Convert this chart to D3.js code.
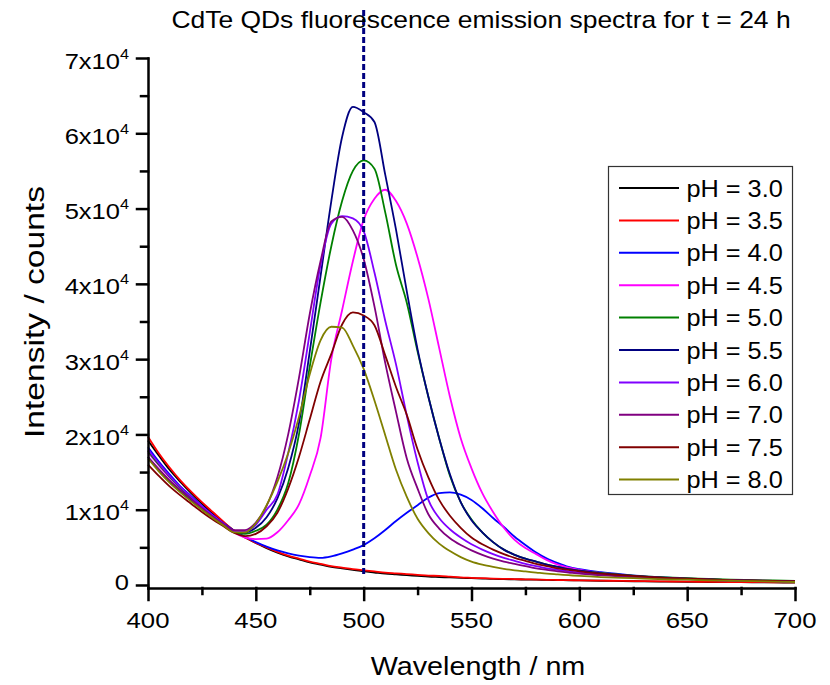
<!DOCTYPE html>
<html>
<head>
<meta charset="utf-8">
<script src="https://cdn.jsdelivr.net/npm/d3@7"></script>
<style>
  body { margin: 0; background: #fff; }
  text { font-family: Arial, 'Liberation Sans', sans-serif; fill: #000; }
</style>
</head>
<body>
<div id="chart"></div>
<script>
(function(d3) {
  'use strict';

  // wavelength grid (nm) shared by all spectra
  var wavelengths = [400,405,410,415,420,425,430,435,440,445,450,455,460,465,470,475,480,485,490,495,
    500,505,510,515,520,525,530,535,540,545,550,555,560,565,570,575,580,585,590,595,600,
    610,620,630,640,650,660,670,680,690,700];

  // intensities (counts)
  var ph30 = [19200,17200,15300,13700,12200,10800,9500,8300,7200,6300, 5600,4900,4300,3800,3400,3000,2700,2400,2200,2000,
    1800,1650,1500,1400,1300,1200,1100,1050,1000,950, 900,850,800,780,750,720,700,670,650,620, 600,
    560,520,480,450,420,400,380,360,340,320];
  var ph35 = [19700,17500,15600,13900,12400,11000,9700,8400,7200,6300, 5600,5000,4400,3900,3500,3100,2800,2500,2300,2100,
    1950,1800,1650,1550,1450,1350,1250,1200,1100,1000, 950,900,850,820,780,750,720,690,660,640, 620,
    580,540,500,470,440,420,400,380,360,350];
  var ph40 = [18300,16400,14700,13100,11800,10500,9300,8200,7200,6400, 5700,5100,4600,4200,3900,3700,3600,3800,4200,4700,
    5300,6200,7300,8500,9600,10600,11600,12200,12300,12000, 11300,10200,8900,7700,6400,5300,4300,3500,2900,2400, 2100,
    1700,1400,1150,1000,850,750,650,550,500,450];
  var ph45 = [17600,15900,14300,12900,11600,10400,9200,8100,7000,6300, 6100,6150,7000,8600,10700,14500,19500,30000,36500,43000,
    48500,51300,52500,51000,48000,43500,38000,31500,25000,19500, 15500,12200,9700,7600,6000,4900,4100,3300,2700,2300, 2000,
    1600,1300,1100,950,800,700,600,550,500,450];
  var ph50 = [17800,16000,14400,12900,11600,10300,9100,8000,7000,6800, 7200,8000,10000,13500,20000,29000,37500,45000,51000,55000,
    56400,55300,49500,42500,37500,31000,25000,19500,14500,11000, 8700,7000,5700,4700,4000,3500,3100,2700,2400,2100, 1900,
    1600,1350,1150,1000,900,800,700,650,600,550];
  var ph55 = [17000,15300,13800,12500,11300,10100,9000,8000,7100,7000, 7600,9000,11500,15500,21500,31000,41000,51000,59500,63500,
    62800,61500,54500,47200,39000,31300,25000,19500,14700,11000, 8600,7000,5700,4700,4000,3500,3100,2700,2400,2100, 1900,
    1550,1300,1100,950,850,750,650,600,550,500];
  var ph60 = [18000,16200,14500,13000,11700,10400,9200,8100,7100,7100, 8000,10000,12000,17500,24500,33500,42500,48000,49000,48700,
    47000,41500,35100,29300,22500,16300,11300,8900,7400,6300, 5400,4700,4100,3600,3200,2800,2500,2200,2000,1800, 1650,
    1400,1200,1050,900,800,700,600,550,500,450];
  var ph70 = [17000,15400,13900,12600,11400,10200,9100,8100,7300,7300, 8300,10500,14300,20000,27500,36000,43000,48300,48900,47100,
    43300,37000,29500,23000,16800,12800,9400,7500,6200,5300, 4600,4000,3500,3100,2800,2500,2200,2000,1800,1650, 1500,
    1300,1100,950,850,750,650,580,520,480,450];
  var ph75 = [16000,14500,13100,11900,10800,9700,8700,7800,6900,6500, 6800,7800,9600,12800,17000,22000,27000,30700,34600,36200,
    35800,34500,30500,26300,22600,18000,14300,11300,9200,7600, 6300,5400,4700,4100,3600,3200,2800,2500,2200,2000, 1800,
    1500,1300,1100,950,850,750,650,600,550,500];
  var ph80 = [16800,15100,13600,12300,11100,10000,8900,7900,7000,7000, 8200,10600,13700,17500,22300,28000,32500,34300,34200,31800,
    28700,24500,19900,15300,11700,8800,6900,5500,4500,3700, 3100,2700,2400,2150,1950,1800,1650,1500,1400,1300, 1200,
    1050,950,850,750,700,620,560,500,450,400];

  var seriesLabels = ['pH = 3.0','pH = 3.5','pH = 4.0','pH = 4.5','pH = 5.0','pH = 5.5','pH = 6.0','pH = 7.0','pH = 7.5','pH = 8.0'];
  var seriesValues = [ph30, ph35, ph40, ph45, ph50, ph55, ph60, ph70, ph75, ph80];
  var seriesColors = ['#000000','#ff0000','#0000ff','#ff00ff','#008000','#000080','#8000ff','#800080','#800000','#808000'];

  var xTicks = [400,450,500,550,600,650,700];
  var xMinor = [425,475,525,575,625,675];
  var yTicks = [0,10000,20000,30000,40000,50000,60000,70000];
  var yMinor = [5000,15000,25000,35000,45000,55000,65000];
  var markerNm = 500;

  var width = 830;
  var height = 685;

  var svg = d3.select('#chart')
    .append('svg')
    .attr('width', width)
    .attr('height', height);

  var x = d3.scaleLinear().domain([400, 700]).range([148, 795]);
  var y = d3.scaleLinear().domain([-400, 70000]).range([588, 58]);

  // the source figure is a bit wider than tall, so its text looks stretched
  function stretched(sel, tx, ty, sx) {
    return sel.attr('transform', 'translate(' + tx + ',' + ty + ') scale(' + sx + ',1)');
  }

  // spectra
  var line = d3.line()
    .x(function(d) { return x(d[0]); })
    .y(function(d) { return y(d[1]); })
    .curve(d3.curveMonotoneX);

  svg.append('g')
    .selectAll('path')
    .data(seriesValues)
    .enter()
    .append('path')
    .attr('d', function(vals) {
      return line(vals.map(function(v, i) { return [wavelengths[i], v]; }));
    })
    .attr('fill', 'none')
    .attr('stroke', function(d, i) { return seriesColors[i]; })
    .attr('stroke-width', 1.8)
    .attr('stroke-linejoin', 'round');

  // dashed marker at 500 nm
  svg.append('line')
    .attr('x1', x(markerNm)).attr('x2', x(markerNm))
    .attr('y1', 10).attr('y2', 577)
    .attr('stroke', '#000080')
    .attr('stroke-width', 3)
    .attr('stroke-dasharray', '6,3');

  // axes
  svg.append('g')
    .attr('transform', 'translate(0,' + 588 + ')')
    .call(d3.axisBottom(x).tickValues(xTicks).tickSize(12).tickSizeOuter(0).tickFormat(''));
  svg.append('g')
    .attr('transform', 'translate(0,' + 588 + ')')
    .call(d3.axisBottom(x).tickValues(xMinor).tickSize(6).tickFormat(''))
    .select('.domain').remove();

  svg.append('g')
    .attr('transform', 'translate(' + 148 + ',0)')
    .call(d3.axisLeft(y).tickValues(yTicks).tickSize(11).tickSizeOuter(0).tickFormat(''));
  svg.append('g')
    .attr('transform', 'translate(' + 148 + ',0)')
    .call(d3.axisLeft(y).tickValues(yMinor).tickSize(7).tickFormat(''))
    .select('.domain').remove();

  svg.selectAll('.domain, .tick line')
    .attr('stroke', '#000')
    .attr('stroke-width', 2.5)
    .attr('stroke-linecap', 'square');

  // tick labels
  svg.append('g')
    .selectAll('text')
    .data(xTicks)
    .enter()
    .append('text')
    .attr('text-anchor', 'middle')
    .style('font-size', '23px')
    .each(function(d) { stretched(d3.select(this), x(d), 628, 1.12); })
    .text(function(d) { return d; });

  var yLab = svg.append('g')
    .selectAll('text')
    .data(yTicks)
    .enter()
    .append('text')
    .attr('text-anchor', 'end')
    .style('font-size', '22px')
    .each(function(d) { stretched(d3.select(this), 129, y(d) + (d === 0 ? 5.5 : 10.5), 1.16); });

  yLab.filter(function(d) { return d === 0; }).text('0');
  yLab.filter(function(d) { return d !== 0; })
    .each(function(d) {
      var t = d3.select(this);
      t.append('tspan').text((d / 10000) + 'x10');
      t.append('tspan').attr('dy', -10).style('font-size', '14px').text('4');
    });

  // titles
  stretched(svg.append('text'), 481, 28, 1.15)
    .attr('text-anchor', 'middle')
    .style('font-size', '23px')
    .text('CdTe QDs fluorescence emission spectra for t = 24 h');

  stretched(svg.append('text'), 478, 675, 1.15)
    .attr('text-anchor', 'middle')
    .style('font-size', '25px')
    .text('Wavelength / nm');

  svg.append('text')
    .attr('transform', 'translate(44,312) rotate(-90) scale(1.2,1)')
    .attr('text-anchor', 'middle')
    .style('font-size', '28px')
    .text('Intensity / counts');

  // legend
  var legendX = 608, legendY = 166, rowH = 32.4;
  svg.append('rect')
    .attr('x', legendX + 0.5).attr('y', legendY + 0.5)
    .attr('width', 184).attr('height', 328)
    .attr('fill', '#fff')
    .attr('stroke', '#333')
    .attr('stroke-width', 1.2);

  var legend = svg.selectAll('.legend')
    .data(seriesLabels)
    .enter()
    .append('g')
    .attr('class', 'legend')
    .attr('transform', function(d, i) {
      return 'translate(' + legendX + ',' + (legendY + 22 + i * rowH) + ')';
    });

  legend.append('line')
    .attr('x1', 11).attr('x2', 71)
    .attr('stroke', function(d, i) { return seriesColors[i]; })
    .attr('stroke-width', 2);

  legend.append('text')
    .style('font-size', '23px')
    .each(function() { stretched(d3.select(this), 78.5, 8.5, 1.1); })
    .text(function(d) { return d; });

})(window.d3);
</script>
</body>
</html>
